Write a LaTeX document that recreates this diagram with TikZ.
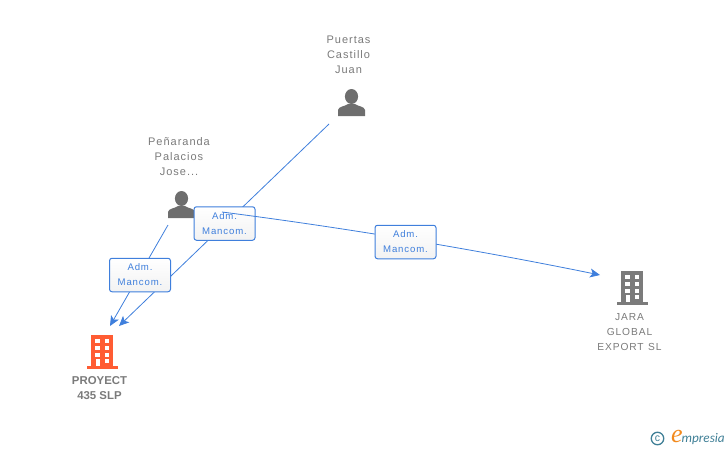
\documentclass[tikz,border=0pt]{standalone}
\usepackage{fontspec}
\setmainfont{Liberation Sans}
\newfontfamily\spacedfont[LetterSpace=9]{Liberation Sans}
\newfontfamily\logofont{Carlito}
\newfontfamily\logoinitial{Liberation Serif}
\usetikzlibrary{arrows.meta}
\definecolor{linkblue}{HTML}{3F7FDC}
\definecolor{labelgrey}{HTML}{7A7A7A}
\definecolor{icongrey}{HTML}{6E6E6E}
\definecolor{buildgrey}{HTML}{7B7B7B}
\definecolor{buildred}{HTML}{FF5C33}
\definecolor{logoteal}{HTML}{3F7F96}
\definecolor{logoorange}{HTML}{F28A1E}
\tikzset{
	link/.style={draw=linkblue, line width=0.8pt, -{Stealth[length=10pt,width=9pt,inset=2.5pt]}},
	rolebox/.style={draw=linkblue, line width=1pt, rounded corners=2.5pt, minimum width=61pt, minimum height=33.5pt, inner sep=0pt, top color=white, bottom color=black!5, text=linkblue, align=center, font=\spacedfont\fontsize{9.6}{15}\selectfont, execute at begin node={\vspace*{2pt}}},
	namelabel/.style={text=labelgrey, align=center, inner sep=0pt, font=\spacedfont\fontsize{11}{15}\selectfont},
	companylabel/.style={text=labelgrey, align=center, inner sep=0pt, font=\spacedfont\fontsize{10.2}{15}\selectfont},
	boldlabel/.style={text=labelgrey, align=center, inner sep=0pt, font=\bfseries\fontsize{11.4}{15}\selectfont},
}
% person icon, centre of the head and shoulders block
\def\personicon(#1,#2){
	\fill[icongrey] (#1, #2-6.5) circle (6.6 and 7.5);
	\fill[icongrey] (#1-13.5, #2+13) -- (#1-13.5, #2+7) .. controls (#1-13, #2+3.5) and (#1-7, #2+3.5) .. (#1-3.5, #2+1) -- (#1+3.5, #2+1) .. controls (#1+7, #2+3.5) and (#1+13, #2+3.5) .. (#1+13.5, #2+7) -- (#1+13.5, #2+13) -- cycle;
}
% building icon, left edge of the base and ground line
\def\buildingicon(#1,#2)[#3]{
	\fill[#3] (#1+4.5, #2-34) rectangle (#1+26.5, #2-1);
	\fill[#3] (#1, #2-3) rectangle (#1+31.5, #2);
	\foreach \row in {0,1,2} {
		\fill[white] (#1+8.5, #2-30+\row*7) rectangle (#1+13.5, #2-26+\row*7);
		\fill[white] (#1+18, #2-30+\row*7) rectangle (#1+22.5, #2-26+\row*7);
	}
	\fill[white] (#1+18, #2-10) rectangle (#1+22.5, #2-6);
	\fill[white] (#1+9, #2-10) rectangle (#1+13.5, #2-3);
}
\begin{document}
\begin{tikzpicture}[x=1pt, y=-1pt]
	\useasboundingbox (0, 0) rectangle (728, 450);

	%%%%% labels %%%%%
	\node[namelabel] (puertas) at (348.5, 55) {Puertas\\Castillo\\Juan};
	\node[namelabel] (penaranda) at (179, 157) {Peñaranda\\Palacios\\Jose...};
	\node[boldlabel] (proyect) at (99.5, 388.5) {PROYECT\\435 SLP};
	\node[companylabel] (jara) at (629.5, 332) {JARA\\GLOBAL\\EXPORT\hspace{4.5pt}SL};

	%%%%% connector ends %%%%%
	\coordinate (puertasout) at (329, 124);
	\coordinate (penarandaout) at (168, 225);
	\coordinate (proyectleft) at (110, 326);
	\coordinate (proyectright) at (119, 326);
	\coordinate (jaraleft) at (600, 275);
	\coordinate (jarastart) at (222, 212);

	%%%%% connectors %%%%%
	\draw[link] (puertasout) -- (proyectright);
	\draw[link] (penarandaout) -- (proyectleft);

	%%%%% icons %%%%%
	\personicon(351.5,103)
	\personicon(181.5,205)
	\buildingicon(86.5,369)[buildred]
	\buildingicon(616.5,305)[buildgrey]

	%%%%% role boxes %%%%%
	\node[rolebox] (admtop) at (224.5, 223.5) {Adm.\\Mancom.};
	\node[rolebox] (admleft) at (140, 275) {Adm.\\Mancom.};
	\draw[link] (jarastart) .. controls +(126, 16.3) and +(-126, -25.7) .. (jaraleft);
	\node[rolebox] (admright) at (405.5, 242) {Adm.\\Mancom.};

	%%%%% logo %%%%%
	\node[circle, draw=logoteal, line width=1.3pt, minimum size=12.5pt, inner sep=0pt, text=logoteal, font=\fontsize{10.5}{10.5}\selectfont] (copyrightmark) at (657.5, 438.5) {c};
	\node[text=logoorange, inner sep=0pt, font=\logoinitial\itshape\fontsize{26}{26}\selectfont] (logoe) at (677, 436) {e};
	\node[text=logoteal, inner sep=0pt, anchor=west, font=\logofont\itshape\fontsize{13.2}{13.2}\selectfont] (logotext) at (681.5, 439.5) {mpresia};
\end{tikzpicture}
\end{document}
